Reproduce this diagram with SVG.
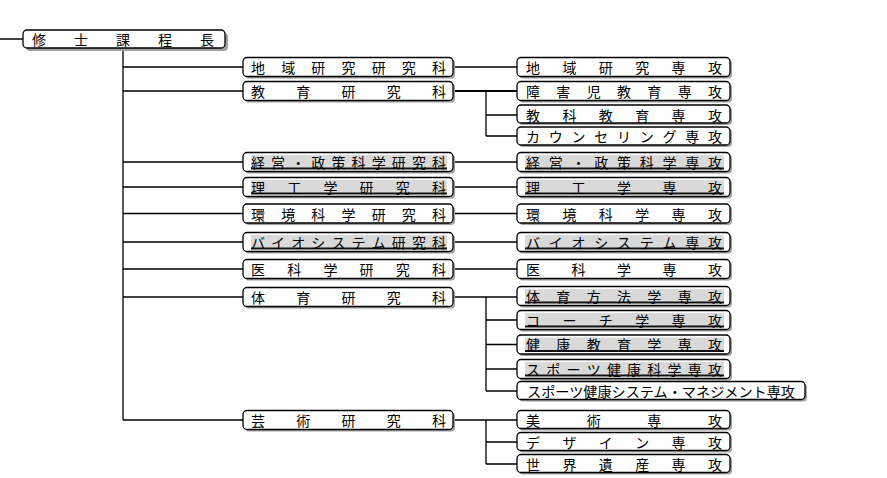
<svg xmlns="http://www.w3.org/2000/svg" width="887" height="478" viewBox="0 0 887 478">
<style>
.bx{fill:#fff;stroke:#000;stroke-width:1.3}
.sh{fill:#a0a0a0}
.t{font-family:"Noto Sans CJK JP","Noto Sans CJK SC",sans-serif;font-size:14px;fill:#000;dominant-baseline:central}
.hl{fill:#d9d9d9}
.ul{stroke:#111;stroke-width:1.8}
.c{stroke:#000;stroke-width:1.3;fill:none}
</style>
<rect width="887" height="478" fill="#fff"/>
<g id="connectors">
<path class="c" d="M0 39H23M123 48V420M123 67H243M123 91H243M123 162H243M123 187H243M123 213.5H243M123 242H243M123 269H243M123 297H243M123 420H243"/>
<path class="c" d="M453 67H517M453 162H517M453 187H517M453 213.5H517M453 242H517M453 269H517"/>
<path class="c" style="stroke-width:2" d="M453 91H517"/>
<path class="c" d="M486 91V136M486 115H517M486 136H517"/>
<path class="c" d="M453 297H517M486 297V391M486 320H517M486 344.5H517M486 369H517M486 391H517"/>
<path class="c" d="M453 420H517M486 420V464M486 442H517M486 464H517"/>
</g>
<g id="root">
<rect class="sh" x="26" y="33" width="202" height="18" rx="4"/>
<rect class="bx" x="23" y="30" width="202" height="18" rx="4"/>
<text class="t" x="32 74 116 158 200" y="39">修士課程長</text>
</g>
<g id="m-chiiki">
<rect class="sh" x="245" y="59.5" width="210" height="19" rx="4"/>
<rect class="bx" x="243" y="57.5" width="210" height="19" rx="4"/>
<text class="t" x="251 281.2 311.3 341.5 371.7 401.8 432" y="67">地域研究研究科</text>
</g>
<g id="m-kyoiku">
<rect class="sh" x="245" y="83.5" width="210" height="19" rx="4"/>
<rect class="bx" x="243" y="81.5" width="210" height="19" rx="4"/>
<text class="t" x="251 296.25 341.5 386.75 432" y="91">教育研究科</text>
</g>
<g id="m-keiei">
<rect class="sh" x="245" y="154.5" width="210" height="19" rx="4"/>
<rect class="bx" x="243" y="152.5" width="210" height="19" rx="4"/>
<rect class="hl" x="251" y="155" width="196" height="13"/>
<line class="ul" x1="251" y1="168.5" x2="447" y2="168.5"/>
<text class="t" x="251 271.1 291.2 311.3 331.4 351.6 371.7 391.8 411.9 432" y="161.5">経営・政策科学研究科</text>
</g>
<g id="m-riko">
<rect class="sh" x="245" y="179.5" width="210" height="19" rx="4"/>
<rect class="bx" x="243" y="177.5" width="210" height="19" rx="4"/>
<rect class="hl" x="251" y="180" width="196" height="13"/>
<line class="ul" x1="251" y1="193.5" x2="447" y2="193.5"/>
<text class="t" x="251 287.2 323.4 359.6 395.8 432" y="186.5">理工学研究科</text>
</g>
<g id="m-kankyo">
<rect class="sh" x="245" y="206" width="210" height="19" rx="4"/>
<rect class="bx" x="243" y="204" width="210" height="19" rx="4"/>
<text class="t" x="251 281.2 311.3 341.5 371.7 401.8 432" y="213.5">環境科学研究科</text>
</g>
<g id="m-bio">
<rect class="sh" x="245" y="234.5" width="210" height="19" rx="4"/>
<rect class="bx" x="243" y="232.5" width="210" height="19" rx="4"/>
<rect class="hl" x="251" y="235" width="196" height="13"/>
<line class="ul" x1="251" y1="248.5" x2="447" y2="248.5"/>
<text class="t" x="251 271.1 291.2 311.3 331.4 351.6 371.7 391.8 411.9 432" y="241.5">バイオシステム研究科</text>
</g>
<g id="m-igaku">
<rect class="sh" x="245" y="261.5" width="210" height="19" rx="4"/>
<rect class="bx" x="243" y="259.5" width="210" height="19" rx="4"/>
<text class="t" x="251 287.2 323.4 359.6 395.8 432" y="269">医科学研究科</text>
</g>
<g id="m-taiiku">
<rect class="sh" x="245" y="289.5" width="210" height="19" rx="4"/>
<rect class="bx" x="243" y="287.5" width="210" height="19" rx="4"/>
<text class="t" x="251 296.25 341.5 386.75 432" y="297">体育研究科</text>
</g>
<g id="m-geijutsu">
<rect class="sh" x="245" y="412.5" width="210" height="19" rx="4"/>
<rect class="bx" x="243" y="410.5" width="210" height="19" rx="4"/>
<text class="t" x="251 296.25 341.5 386.75 432" y="420">芸術研究科</text>
</g>
<g id="r-chiiki">
<rect class="sh" x="519" y="59.5" width="213" height="19" rx="4"/>
<rect class="bx" x="517" y="57.5" width="213" height="19" rx="4"/>
<text class="t" x="526 562.4 598.8 635.2 671.6 708" y="67">地域研究専攻</text>
</g>
<g id="r-shogaiji">
<rect class="sh" x="519" y="83.5" width="213" height="19" rx="4"/>
<rect class="bx" x="517" y="81.5" width="213" height="19" rx="4"/>
<text class="t" x="526 556.3 586.7 617 647.3 677.7 708" y="91">障害児教育専攻</text>
</g>
<g id="r-kyoka">
<rect class="sh" x="519" y="107" width="213" height="18" rx="4"/>
<rect class="bx" x="517" y="105" width="213" height="18" rx="4"/>
<text class="t" x="526 562.4 598.8 635.2 671.6 708" y="114.5">教科教育専攻</text>
</g>
<g id="r-counseling">
<rect class="sh" x="519" y="129" width="213" height="18" rx="4"/>
<rect class="bx" x="517" y="127" width="213" height="18" rx="4"/>
<text class="t" x="526 548.75 571.5 594.25 617 639.75 662.5 685.25 708" y="136">カウンセリング専攻</text>
</g>
<g id="r-keiei">
<rect class="sh" x="519" y="154.5" width="213" height="19" rx="4"/>
<rect class="bx" x="517" y="152.5" width="213" height="19" rx="4"/>
<rect class="hl" x="525" y="155" width="199" height="13"/>
<line class="ul" x1="525" y1="168.5" x2="724" y2="168.5"/>
<text class="t" x="526 548.75 571.5 594.25 617 639.75 662.5 685.25 708" y="161.5">経営・政策科学専攻</text>
</g>
<g id="r-riko">
<rect class="sh" x="519" y="179.5" width="213" height="19" rx="4"/>
<rect class="bx" x="517" y="177.5" width="213" height="19" rx="4"/>
<rect class="hl" x="525" y="180" width="199" height="13"/>
<line class="ul" x1="525" y1="193.5" x2="724" y2="193.5"/>
<text class="t" x="526 571.5 617 662.5 708" y="186.5">理工学専攻</text>
</g>
<g id="r-kankyo">
<rect class="sh" x="519" y="206" width="213" height="19" rx="4"/>
<rect class="bx" x="517" y="204" width="213" height="19" rx="4"/>
<text class="t" x="526 562.4 598.8 635.2 671.6 708" y="213.5">環境科学専攻</text>
</g>
<g id="r-bio">
<rect class="sh" x="519" y="234.5" width="213" height="19" rx="4"/>
<rect class="bx" x="517" y="232.5" width="213" height="19" rx="4"/>
<rect class="hl" x="525" y="235" width="199" height="13"/>
<line class="ul" x1="525" y1="248.5" x2="724" y2="248.5"/>
<text class="t" x="526 548.75 571.5 594.25 617 639.75 662.5 685.25 708" y="241.5">バイオシステム専攻</text>
</g>
<g id="r-igaku">
<rect class="sh" x="519" y="261.5" width="213" height="19" rx="4"/>
<rect class="bx" x="517" y="259.5" width="213" height="19" rx="4"/>
<text class="t" x="526 571.5 617 662.5 708" y="269">医科学専攻</text>
</g>
<g id="r-taiikuhoho">
<rect class="sh" x="519" y="288.5" width="213" height="19" rx="4"/>
<rect class="bx" x="517" y="286.5" width="213" height="19" rx="4"/>
<rect class="hl" x="525" y="289" width="199" height="13"/>
<line class="ul" x1="525" y1="302.5" x2="724" y2="302.5"/>
<text class="t" x="526 556.3 586.7 617 647.3 677.7 708" y="295.5">体育方法学専攻</text>
</g>
<g id="r-coach">
<rect class="sh" x="519" y="312.5" width="213" height="19" rx="4"/>
<rect class="bx" x="517" y="310.5" width="213" height="19" rx="4"/>
<rect class="hl" x="525" y="313" width="199" height="13"/>
<line class="ul" x1="525" y1="326.5" x2="724" y2="326.5"/>
<text class="t" x="526 562.4 598.8 635.2 671.6 708" y="319.5">コーチ学専攻</text>
</g>
<g id="r-kenko">
<rect class="sh" x="519" y="337" width="213" height="19" rx="4"/>
<rect class="bx" x="517" y="335" width="213" height="19" rx="4"/>
<rect class="hl" x="525" y="337.5" width="199" height="13"/>
<line class="ul" x1="525" y1="351" x2="724" y2="351"/>
<text class="t" x="526 556.3 586.7 617 647.3 677.7 708" y="344">健康教育学専攻</text>
</g>
<g id="r-sportskagaku">
<rect class="sh" x="519" y="361.5" width="213" height="19" rx="4"/>
<rect class="bx" x="517" y="359.5" width="213" height="19" rx="4"/>
<rect class="hl" x="525" y="362" width="199" height="13"/>
<line class="ul" x1="525" y1="375.5" x2="724" y2="375.5"/>
<text class="t" x="526 546.2 566.4 586.7 606.9 627.1 647.3 667.6 687.8 708" y="368.5">スポーツ健康科学専攻</text>
</g>
<g id="r-sportssystem">
<rect class="sh" x="519" y="383.5" width="288" height="18" rx="4"/>
<rect class="bx" x="517" y="381.5" width="288" height="18" rx="4"/>
<text class="t" x="527" y="391" textLength="268" lengthAdjust="spacingAndGlyphs">スポーツ健康システム・マネジメント専攻</text>
</g>
<g id="r-bijutsu">
<rect class="sh" x="519" y="412.5" width="213" height="18" rx="4"/>
<rect class="bx" x="517" y="410.5" width="213" height="18" rx="4"/>
<text class="t" x="526 586.7 647.3 708" y="420">美術専攻</text>
</g>
<g id="r-design">
<rect class="sh" x="519" y="434.5" width="213" height="18" rx="4"/>
<rect class="bx" x="517" y="432.5" width="213" height="18" rx="4"/>
<text class="t" x="526 562.4 598.8 635.2 671.6 708" y="442">デザイン専攻</text>
</g>
<g id="r-sekaiisan">
<rect class="sh" x="519" y="456.5" width="213" height="18" rx="4"/>
<rect class="bx" x="517" y="454.5" width="213" height="18" rx="4"/>
<text class="t" x="526 562.4 598.8 635.2 671.6 708" y="464">世界遺産専攻</text>
</g>
</svg>
